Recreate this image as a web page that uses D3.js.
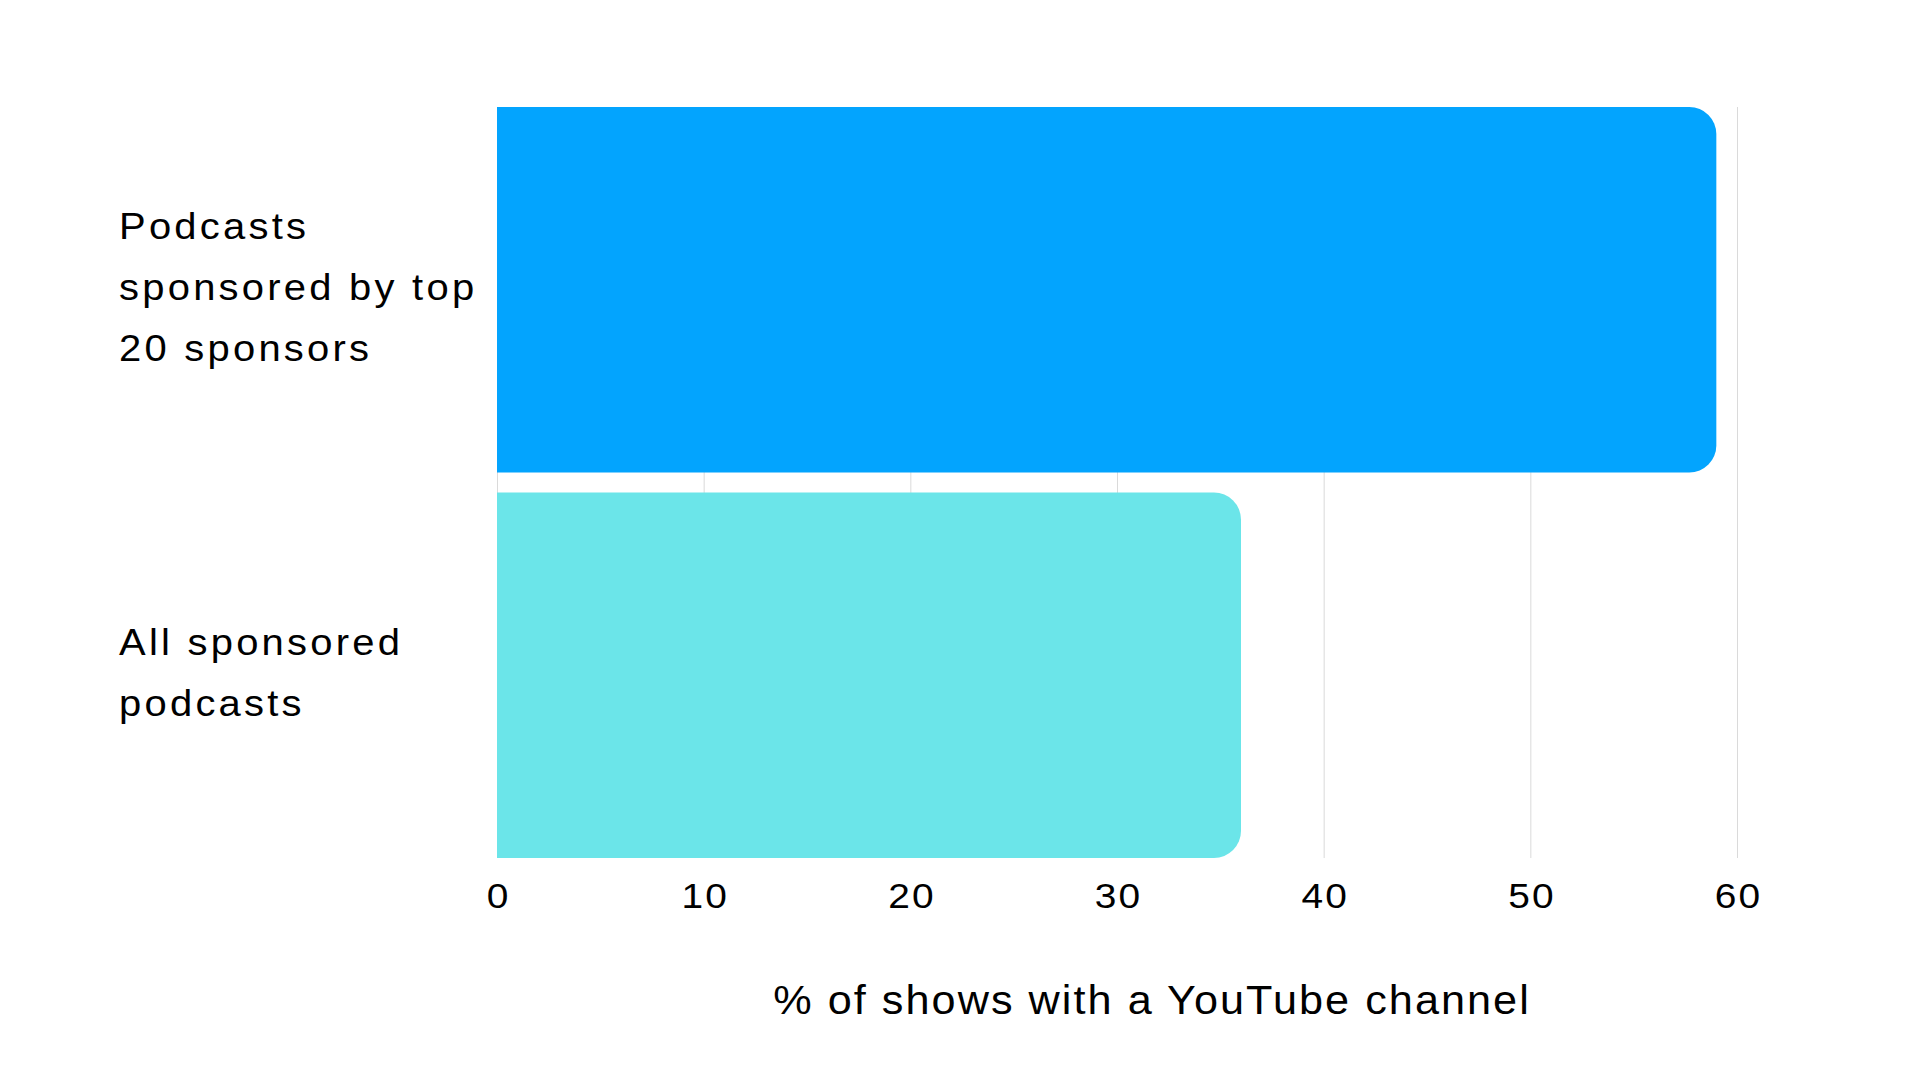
<!DOCTYPE html>
<html>
<head>
<meta charset="utf-8">
<script src="https://cdn.jsdelivr.net/npm/d3@7"></script>
<style>
  html, body { margin: 0; padding: 0; background: #ffffff; }
  svg { display: block; }
  text { font-family: "Liberation Sans", Arial, sans-serif; fill: #000; }
</style>
</head>
<body>
<svg id="chart" width="1920" height="1080"></svg>
<script>
// ---- data ----
const categories = ["Podcasts sponsored by top 20 sponsors", "All sponsored podcasts"];
const categoryLines = [["Podcasts", "sponsored by top", "20 sponsors"], ["All sponsored", "podcasts"]];
const values = [59, 36];
const barColors = ["#03A4FE", "#6BE5E9"];
const tickValues = [0, 10, 20, 30, 40, 50, 60];
const xTitle = "% of shows with a YouTube channel";

// ---- layout ----
const svg = d3.select("#chart");
const x = d3.scaleLinear().domain([0, 60]).range([497, 1737]);
const y = d3.scaleBand().domain(categories).range([107, 858]).paddingInner(0.052).paddingOuter(0);
const sx = 1.08; // horizontal glyph stretch

// grid lines
svg.append("g").selectAll("line").data(tickValues).join("line")
  .attr("x1", d => x(d) + 0.5).attr("x2", d => x(d) + 0.5)
  .attr("y1", 107).attr("y2", 858)
  .attr("stroke", "#dadada").attr("stroke-width", 1);

// bars with rounded right corners
const r = 27;
function barPath(x0, x1, y0, h) {
  const rr = Math.min(r, (x1 - x0), h / 2);
  return `M${x0},${y0} H${x1 - rr} A${rr},${rr} 0 0 1 ${x1},${y0 + rr} V${y0 + h - rr} A${rr},${rr} 0 0 1 ${x1 - rr},${y0 + h} H${x0} Z`;
}
svg.append("g").selectAll("path").data(categories).join("path")
  .attr("d", (c, i) => barPath(x(0), x(values[i]), y(c), y.bandwidth()))
  .attr("fill", (c, i) => barColors[i]);

// category labels
const lineH = 61;
categories.forEach((c, i) => {
  const lines = categoryLines[i];
  const cy = y(c) + y.bandwidth() / 2;
  const t = svg.append("text")
    .attr("transform", `translate(119,0) scale(${sx},1)`)
    .style("font-size", "37px")
    .style("letter-spacing", "3px");
  lines.forEach((ln, j) => {
    t.append("tspan")
      .attr("x", 0)
      .attr("y", cy + (j - (lines.length - 1) / 2) * lineH + 10)
      .text(ln);
  });
});

// x axis
const xAxis = d3.axisBottom(x).tickValues(tickValues).tickSize(0).tickPadding(0).tickFormat(d3.format("d"));
const gx = svg.append("g").attr("transform", "translate(0,881)").call(xAxis);
gx.select(".domain").remove();
gx.selectAll("text")
  .attr("y", 0).attr("dy", "0.75em")
  .attr("x", 1)
  .attr("transform", `scale(${sx},1)`)
  .style("font-size", "36px")
  .style("letter-spacing", "2px")
  .attr("fill", "#000")
  .attr("text-anchor", "middle")
  .attr("font-family", "Liberation Sans, Arial, sans-serif");

// x axis title
svg.append("text")
  .attr("transform", `translate(1152,1014) scale(${sx},1)`)
  .attr("text-anchor", "middle")
  .style("font-size", "40px")
  .style("letter-spacing", "1.9px")
  .text(xTitle);
</script>
</body>
</html>
